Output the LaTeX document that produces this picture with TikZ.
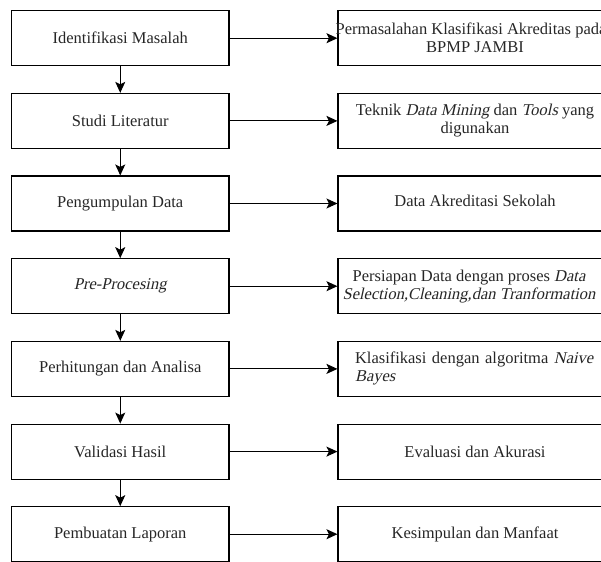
\documentclass[tikz,border=0pt]{standalone}
\usepackage{fontspec}
\setmainfont{Liberation Serif}[ItalicFont={Liberation Serif}, ItalicFeatures={FakeSlant=0.22}]
\usetikzlibrary{arrows.meta}

\begin{document}
\begin{tikzpicture}
    [
        x=1pt, y=-1pt,
        step box/.style = {draw, shape=rectangle, minimum height=55pt, minimum width=217.5pt, line width=1.1pt, font=\fontsize{16.5}{18}\selectfont, text=black!85, align=center},
        out box/.style = {draw, shape=rectangle, minimum height=55pt, minimum width=274pt, inner xsep=1pt, line width=1.1pt, font=\fontsize{16.5}{18}\selectfont, text=black!85, align=center},
        flow/.style = {-{Stealth[length=11pt,width=10pt,inset=2.5pt]}, line width=1.1pt},
    ]

    \clip (0,0) rectangle (601,561);

    \node[step box] (l1) at (120.25,38.2)   {Identifikasi Masalah};
    \node[step box] (l2) at (120.25,120.9)  {Studi Literatur};
    \node[step box] (l3) at (120.25,203.5)  {Pengumpulan Data};
    \node[step box] (l4) at (120.25,286.2)  {\textit{Pre-Procesing}};
    \node[step box] (l5) at (120.25,368.9)  {Perhitungan dan Analisa};
    \node[step box] (l6) at (120.25,451.6)  {Validasi Hasil};
    \node[step box] (l7) at (120.25,534.2)  {Pembuatan Laporan};

    \node[out box] (r1) at (475,38.2)   {\makebox[260pt][c]{Permasalahan Klasifikasi Akreditas pada\hspace*{8pt}}\\BPMP JAMBI};
    \node[out box] (r2) at (475,120.9)  {Teknik \textit{Data Mining} dan \textit{Tools} yang\\digunakan};
    \node[out box] (r3) at (475,203.5)  {\raisebox{6pt}{Data Akreditasi Sekolah}};
    \node[out box] (r4) at (475,286.2)  {Persiapan Data dengan proses \textit{Data}\hspace*{12pt}\\\textit{Selection,Cleaning,dan Tranformation}\hspace*{12pt}};
    \node[out box, text width=240pt, inner xsep=17pt, align=left] (r5) at (475,368.9) {Klasifikasi dengan algoritma \textit{Naive}\\\textit{Bayes}};
    \node[out box] (r6) at (475,451.6)  {Evaluasi dan Akurasi};
    \node[out box] (r7) at (475,534.2)  {Kesimpulan dan Manfaat};

    \draw [flow] (l1.south) -- (l2.north);
    \draw [flow] (l2.south) -- (l3.north);
    \draw [flow] (l3.south) -- (l4.north);
    \draw [flow] (l4.south) -- (l5.north);
    \draw [flow] (l5.south) -- (l6.north);
    \draw [flow] (l6.south) -- (l7.north);

    \draw [flow] (l1.east) -- (r1.west);
    \draw [flow] (l2.east) -- (r2.west);
    \draw [flow] (l3.east) -- (r3.west);
    \draw [flow] (l4.east) -- (r4.west);
    \draw [flow] (l5.east) -- (r5.west);
    \draw [flow] (l6.east) -- (r6.west);
    \draw [flow] (l7.east) -- (r7.west);
\end{tikzpicture}
\end{document}
